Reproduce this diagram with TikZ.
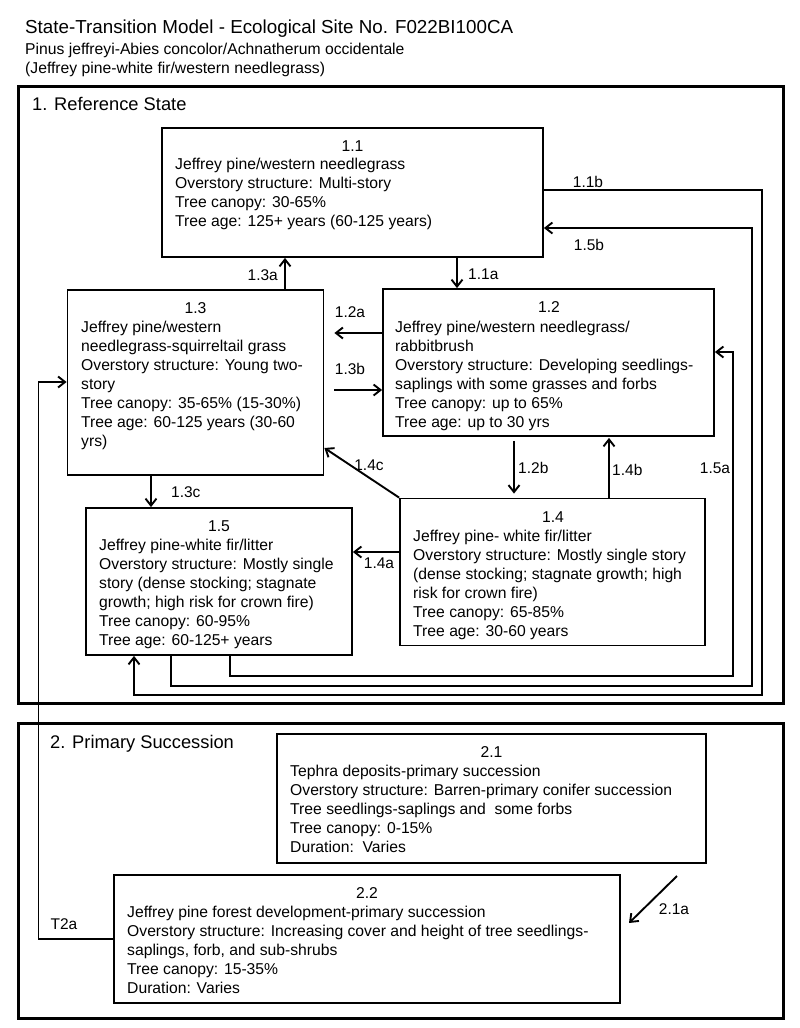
\documentclass[tikz,border=0pt]{standalone}
\usepackage{fontspec}
\setmainfont{Liberation Sans}
\usetikzlibrary{arrows.meta}
\newcommand\myTitleFont{\fontsize{18.8}{22}\selectfont}
\newcommand\myStateFont{\fontsize{18.3}{22}\selectfont}
\newcommand\myBodyFont{\fontsize{15.7}{19}\selectfont}
\newcommand\myLabFont{\fontsize{15.5}{18}\selectfont}
\begin{document}
\begin{tikzpicture}[x=1pt,y=-1pt,
  outerbox/.style={draw, line width=3pt, rectangle, inner sep=0pt},
  statebox/.style={draw, line width=1.8pt, rectangle, inner sep=0pt},
  num/.style={font=\myBodyFont, anchor=base, inner sep=0pt},
  body/.style={font=\myBodyFont, align=left, anchor=north west, inner sep=0pt},
  lab/.style={font=\myLabFont, inner sep=0pt, anchor=base},
  conn/.style={line width=1.9pt, -{Straight Barb[length=7pt,width=11pt]}},
]
\useasboundingbox (0,0) rectangle (800,1028);
\fill[white] (0,0) rectangle (800,1028);

% headings
\node[font=\myTitleFont, anchor=base west, inner sep=0pt] (title) at (25,33.5) {State-Transition Model - Ecological Site No. F022BI100CA};
\node[font=\myBodyFont, anchor=base west, inner sep=0pt] (sub1) at (25,54) {Pinus jeffreyi-Abies concolor/Achnatherum occidentale};
\node[font=\myBodyFont, anchor=base west, inner sep=0pt] (sub2) at (25,73.5) {(Jeffrey pine-white fir/western needlegrass)};

% state boxes
\node[outerbox, minimum width=765pt, minimum height=617pt] (s1) at (400.5,394.5) {};
\node[outerbox, minimum width=765pt, minimum height=295pt] (s2) at (400.5,870.5) {};
\node[font=\myStateFont, anchor=base west, inner sep=0pt] (h1) at (32,110.7) {1. Reference State};
\node[font=\myStateFont, anchor=base west, inner sep=0pt] (h2) at (50,748.3) {2. Primary Succession};

% community boxes
\node[statebox, minimum width=381pt, minimum height=129pt] (b11) at (352.5,192.5) {};
\node[statebox, minimum width=331pt, minimum height=147pt] (b12) at (548.5,362.5) {};
\node[statebox, minimum width=256pt, minimum height=185pt] (b13) at (195.5,382.5) {};
\node[statebox, minimum width=305pt, minimum height=147pt] (b14) at (552.5,572) {};
\node[statebox, minimum width=266pt, minimum height=147pt] (b15) at (219,581.5) {};
\node[statebox, minimum width=429pt, minimum height=129pt] (b21) at (491.5,798.5) {};
\node[statebox, minimum width=506pt, minimum height=128pt] (b22) at (367,939) {};

% box texts
\node[num] (n11) at (352.5,151.6) {1.1};
\node[body] (t11) at (175,156.3) {\strut Jeffrey pine/western needlegrass\\
Overstory structure: Multi-story\\
Tree canopy: 30-65\%\\
Tree age: 125+ years (60-125 years)};

\node[num] (n12) at (549,312.6) {1.2};
\node[body] (t12) at (395,319.3) {\strut Jeffrey pine/western needlegrass/\\
rabbitbrush\\
Overstory structure: Developing seedlings-\\
saplings with some grasses and forbs\\
Tree canopy: up to 65\%\\
Tree age: up to 30 yrs};

\node[num] (n13) at (195.5,313.6) {1.3};
\node[body] (t13) at (81,319.3) {\strut Jeffrey pine/western\\
needlegrass-squirreltail grass\\
Overstory structure: Young two-\\
story\\
Tree canopy: 35-65\% (15-30\%)\\
Tree age: 60-125 years (30-60\\
yrs)};

\node[num] (n14) at (553,522) {1.4};
\node[body] (t14) at (413,528.3) {\strut Jeffrey pine- white fir/litter\\
Overstory structure: Mostly single story\\
(dense stocking; stagnate growth; high\\
risk for crown fire)\\
Tree canopy: 65-85\%\\
Tree age: 30-60 years};

\node[num] (n15) at (219,531.6) {1.5};
\node[body] (t15) at (99,537.3) {\strut Jeffrey pine-white fir/litter\\
Overstory structure: Mostly single\\
story (dense stocking; stagnate\\
growth; high risk for crown fire)\\
Tree canopy: 60-95\%\\
Tree age: 60-125+ years};

\node[num] (n21) at (491.5,757.6) {2.1};
\node[body] (t21) at (290,763.3) {\strut Tephra deposits-primary succession\\
Overstory structure: Barren-primary conifer succession\\
Tree seedlings-saplings and\ \ some forbs\\
Tree canopy: 0-15\%\\
Duration:\ \ Varies};

\node[num] (n22) at (367,898.6) {2.2};
\node[body] (t22) at (127,904.3) {\strut Jeffrey pine forest development-primary succession\\
Overstory structure: Increasing cover and height of tree seedlings-\\
saplings, forb, and sub-shrubs\\
Tree canopy: 15-35\%\\
Duration: Varies};

% bend coordinates
\coordinate (c11a) at (762,190);
\coordinate (c11b) at (134,695);
\coordinate (c15b) at (752,228);
\coordinate (c15bl) at (171,686);
\coordinate (c15a) at (733,352);
\coordinate (c15al) at (230,676);
\coordinate (ct2) at (38.5,382);
\coordinate (ct2b) at (38.5,939);
\coordinate (a21s) at (677,876);
\coordinate (a21e) at (629,923);

% connectors
\draw[conn] (b13.north -| 285,0) -- (b11.south -| 285,0);
\draw[conn] (b11.south -| 457,0) -- (b12.north -| 457,0);
\draw[conn, shorten >=10pt] (b12.west |- 0,333) -- (b13.east |- 0,333);
\draw[conn, shorten <=10pt] (b13.east |- 0,390) -- (b12.west |- 0,390);
\draw[conn] (b13.south -| 151,0) -- (b15.north -| 151,0);
\draw[conn] (b14.north west) -- (b13.east |- 0,448);
\draw[conn, shorten <=4pt, shorten >=4pt] (b12.south -| 514,0) -- (b14.north -| 514,0);
\draw[conn, shorten >=1pt] (b14.north -| 609,0) -- (b12.south -| 609,0);
\draw[conn] (b14.west |- 0,552) -- (b15.east |- 0,552);
\draw[conn] (b11.east |- c11a) -- (c11a) |- (c11b) -- (b15.south -| c11b);
\draw[conn] (b15.south -| c15bl) -- (c15bl) -| (c15b) -- (b11.east |- c15b);
\draw[conn] (b15.south -| c15al) -- (c15al) -| (c15a) -- (b12.east |- c15a);
\draw[conn] (b22.west |- ct2b) -- (ct2b) -- (ct2) -- (b13.west |- ct2);
\draw[conn] (a21s) -- (a21e);

% labels
\node[lab, anchor=base east] (l13a) at (278,280) {1.3a};
\node[lab, anchor=base west] (l11a) at (468,279) {1.1a};
\node[lab] (l11b) at (588,187) {1.1b};
\node[lab] (l15b) at (589,250.5) {1.5b};
\node[lab] (l12a) at (350,317) {1.2a};
\node[lab] (l13b) at (350,374) {1.3b};
\node[lab, anchor=base west] (l13c) at (171,497) {1.3c};
\node[lab] (l14c) at (369,470) {1.4c};
\node[lab, anchor=base west] (l12b) at (518,473) {1.2b};
\node[lab, anchor=base west] (l14b) at (612,475) {1.4b};
\node[lab] (l15a) at (715,473) {1.5a};
\node[lab] (l14a) at (379,568) {1.4a};
\node[lab] (l21a) at (674,914) {2.1a};
\node[lab] (lt2a) at (64,929) {T2a};
\end{tikzpicture}
\end{document}
